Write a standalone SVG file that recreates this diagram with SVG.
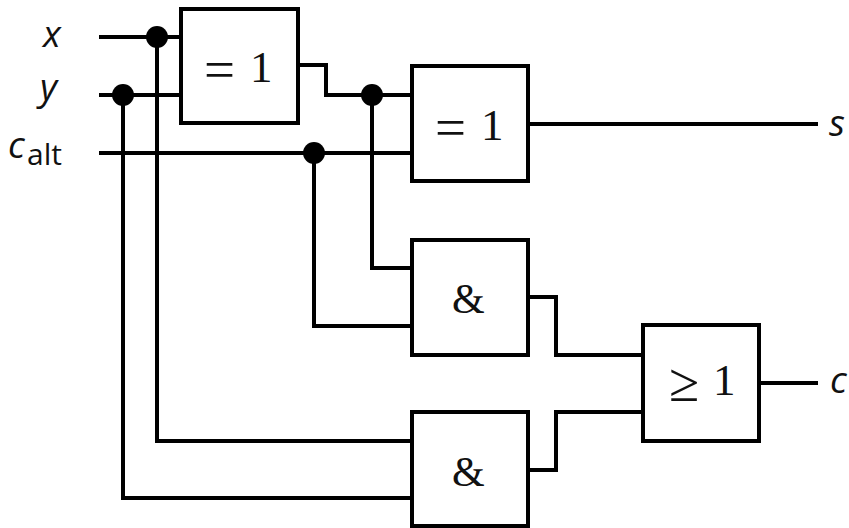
<svg xmlns="http://www.w3.org/2000/svg" width="849" height="528" viewBox="0 0 849 528">
<style>
.g{fill:#fff;stroke:#000;stroke-width:4}
.w{fill:none;stroke:#000;stroke-width:4}
.d{fill:#000}
.m{font-family:"Liberation Serif",serif;font-size:45px;fill:#111}
.b{font-size:55px}
.a{font-size:42px}
.l{font-family:"Open Sans","Liberation Sans",sans-serif;font-size:37px;font-style:italic;fill:#111}
.s{font-family:"Open Sans","Liberation Sans",sans-serif;font-size:30px;fill:#111}
</style>
<g id="connectors">
<path class="w" d="M99 37H181M99 95H181M99 153H412M157 37V441H412M123 95V498H412"/>
<path class="w" d="M298 65H326V95H412M372 95V268H412M314 153V326H412"/>
<path class="w" d="M528 124H818M528 297H556V355H643M528 470H556V412H643M759 383H818"/>
<circle class="d" cx="157" cy="37" r="11"/>
<circle class="d" cx="123" cy="95" r="11"/>
<circle class="d" cx="314" cy="153" r="11"/>
<circle class="d" cx="372" cy="95" r="11"/>
</g>
<g id="label-x"><text class="l" x="43" y="47">x</text></g>
<g id="label-y"><text class="l" x="40" y="100">y</text></g>
<g id="label-calt"><text class="l" x="8" y="158">c</text><text class="s" x="27" y="165">alt</text></g>
<g id="label-s"><text class="l" x="829" y="136">s</text></g>
<g id="label-c"><text class="l" x="830" y="393">c</text></g>
<g id="gate-xor1"><rect class="g" x="181" y="9" width="117" height="114"/><text class="m"><tspan class="b" x="204" y="88">=</tspan><tspan x="250" y="82">1</tspan></text></g>
<g id="gate-xor2"><rect class="g" x="412" y="66" width="116" height="115"/><text class="m"><tspan class="b" x="435" y="146">=</tspan><tspan x="481" y="140">1</tspan></text></g>
<g id="gate-and1"><rect class="g" x="412" y="240" width="116" height="115"/><text class="m a" x="452" y="313">&amp;</text></g>
<g id="gate-and2"><rect class="g" x="412" y="412" width="116" height="114"/><text class="m a" x="452" y="486">&amp;</text></g>
<g id="gate-or"><rect class="g" x="643" y="325" width="116" height="116"/><text class="m"><tspan class="b" x="669" y="401">≥</tspan><tspan x="713" y="395">1</tspan></text></g>
</svg>
